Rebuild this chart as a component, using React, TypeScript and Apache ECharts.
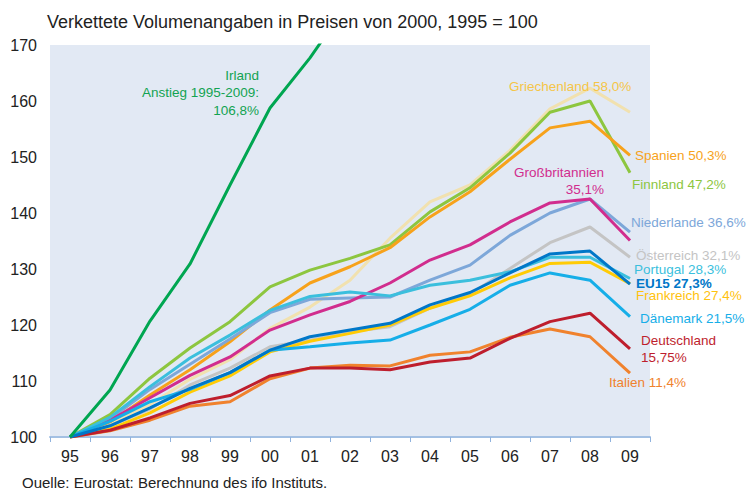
import React, { useEffect, useRef } from "react";
import * as echarts from "echarts";

const years = ["95", "96", "97", "98", "99", "00", "01", "02", "03", "04", "05", "06", "07", "08", "09"];
const yTicks = { min: 100, max: 170, interval: 10 };

const irland = [100, 108.4, 120.7, 130.9, 145, 158.75, 167.7, 178, 185, 193, 204, 214, 224, 220, 206.8];
const griechenland = [100, 102.5, 105.8, 110.3, 113.8, 119.4, 123.2, 128, 135.5, 142, 145, 151.2, 158.6, 162.3, 158];
const finnland = [100, 104, 110.5, 115.9, 120.6, 126.8, 129.8, 131.9, 134.3, 140.2, 144.5, 150.7, 158, 160, 147.2];
const spanien = [100, 102.7, 107.5, 112, 117, 122.7, 127.5, 130.4, 133.8, 139.3, 143.8, 149.6, 155.2, 156.4, 150.3];
const grossbritannien = [100, 103, 107, 111, 114.3, 119.1, 121.8, 124.2, 127.5, 131.6, 134.3, 138.4, 141.8, 142.5, 135.1];
const niederlande = [100, 103.2, 108.5, 113, 117.5, 122.2, 124.6, 124.8, 125, 128, 130.7, 136, 140, 142.5, 136.6];
const oesterreich = [100, 102, 105, 109.3, 112.3, 116.1, 117.3, 118.8, 119.7, 123, 125.5, 130.1, 134.7, 137.5, 132.1];
const portugal = [100, 103.5, 109, 114.1, 118.2, 122.6, 125.1, 125.9, 125.2, 127.1, 128, 129.5, 132.1, 132.1, 128.3];
const eu15 = [100, 102, 105.2, 108.7, 111.5, 115.5, 117.9, 119.1, 120.3, 123.6, 125.8, 129.3, 132.7, 133.2, 127.3];
const frankreich = [100, 101.4, 104.3, 108, 110.9, 115.2, 117.1, 118.5, 120, 123, 125.2, 128.4, 131, 131.2, 127.4];
const daenemark = [100, 102.8, 106.3, 108.5, 111.5, 115.5, 116.1, 116.8, 117.3, 120, 122.8, 127.1, 129.3, 128, 121.5];
const deutschland = [100, 101.2, 103.4, 106, 107.4, 110.9, 112.3, 112.3, 112, 113.4, 114.1, 117.6, 120.6, 122.1, 115.75];
const italien = [100, 101.1, 103, 105.5, 106.3, 110.4, 112.3, 112.8, 112.7, 114.6, 115.2, 117.8, 119.3, 117.9, 111.4];

const title = "Verkettete Volumenangaben in Preisen von 2000, 1995 = 100";
const source = "Quelle: Eurostat; Berechnung des ifo Instituts.";

const FONT = "Liberation Sans, Arial, sans-serif";

type Lbl = { lines: string[]; x: number; y: number; color: string; align?: string; bold?: boolean };

const labels: Lbl[] = [
  { lines: ["Irland", "Anstieg 1995-2009:", "106,8%"], x: 259, y: 75, color: "#13A352", align: "right" },
  { lines: ["Griechenland 58,0%"], x: 509, y: 86, color: "#F5C547" },
  { lines: ["Spanien 50,3%"], x: 635, y: 155, color: "#F7A21B" },
  { lines: ["Finnland 47,2%"], x: 632, y: 184, color: "#8DC63F" },
  { lines: ["Großbritannien", "35,1%"], x: 604, y: 172, color: "#D12D8E", align: "right" },
  { lines: ["Niederlande 36,6%"], x: 631, y: 222, color: "#7DA7D9" },
  { lines: ["Österreich 32,1%"], x: 636, y: 255, color: "#C4C4C4" },
  { lines: ["Portugal 28,3%"], x: 634, y: 269, color: "#3BBFDD" },
  { lines: ["EU15 27,3%"], x: 636, y: 283, color: "#0077C8", bold: true },
  { lines: ["Frankreich 27,4%"], x: 636, y: 295, color: "#FFC20E" },
  { lines: ["Dänemark 21,5%"], x: 640, y: 318, color: "#16AEE8" },
  { lines: ["Deutschland", "15,75%"], x: 641, y: 340, color: "#BE1E2D" },
  { lines: ["Italien 11,4%"], x: 609, y: 382, color: "#F0822D" },
];

const seriesDefs: { name: string; data: number[]; color: string }[] = [
  { name: "Griechenland", data: griechenland, color: "#F1E1AF" },
  { name: "Finnland", data: finnland, color: "#8DC63F" },
  { name: "Spanien", data: spanien, color: "#F7A21B" },
  { name: "Niederlande", data: niederlande, color: "#7DA7D9" },
  { name: "Großbritannien", data: grossbritannien, color: "#D12D8E" },
  { name: "Österreich", data: oesterreich, color: "#C4C4C4" },
  { name: "Portugal", data: portugal, color: "#3BBFDD" },
  { name: "Frankreich", data: frankreich, color: "#FFCB05" },
  { name: "Dänemark", data: daenemark, color: "#16AEE8" },
  { name: "Italien", data: italien, color: "#F0822D" },
  { name: "Deutschland", data: deutschland, color: "#BE1E2D" },
  { name: "EU15", data: eu15, color: "#0077C8" },
  { name: "Irland", data: irland, color: "#00A651" },
];

export default function App() {
  const ref = useRef<HTMLDivElement>(null);
  useEffect(() => {
    if (!ref.current) return;
    const chart = echarts.init(ref.current, null, { renderer: "svg" });
    const graphics: any[] = [
      {
        type: "text",
        x: 47,
        y: 22,
        style: { text: title, fill: "#222", font: `18px ${FONT}`, verticalAlign: "middle" },
      },
      {
        type: "text",
        x: 22,
        y: 482,
        style: { text: source, fill: "#222", font: `15px ${FONT}`, verticalAlign: "middle" },
      },
    ];
    labels.forEach((l) => {
      l.lines.forEach((t, i) => {
        graphics.push({
          type: "text",
          x: l.x,
          y: l.y + i * 17.5,
          z: 100,
          style: {
            text: t,
            fill: l.color,
            font: `${l.bold ? "bold " : ""}13.5px ${FONT}`,
            align: l.align || "left",
            verticalAlign: "middle",
          },
        });
      });
    });
    chart.setOption({
      animation: false,
      backgroundColor: "#ffffff",
      grid: {
        left: 50,
        right: 99,
        top: 45,
        bottom: 51,
        show: true,
        backgroundColor: "#E2E9F4",
        borderWidth: 0,
      },
      xAxis: {
        type: "category",
        data: years,
        boundaryGap: true,
        axisLine: { show: true, lineStyle: { color: "#A3C0E3", width: 2 } },
        axisTick: { show: true, length: 5, lineStyle: { color: "#8FB2DE", width: 1 } },
        axisLabel: { color: "#222", fontSize: 16, fontFamily: FONT, margin: 11 },
        splitLine: { show: false },
      },
      yAxis: {
        type: "value",
        min: yTicks.min,
        max: yTicks.max,
        interval: yTicks.interval,
        axisLine: { show: false },
        axisTick: { show: false },
        splitLine: { show: false },
        axisLabel: { color: "#222", fontSize: 16, fontFamily: FONT, margin: 13 },
      },
      series: seriesDefs.map((s) => ({
        name: s.name,
        type: "line",
        data: s.data,
        symbol: "none",
        clip: true,
        lineStyle: { color: s.color, width: 3 },
        itemStyle: { color: s.color },
      })),
      graphic: graphics,
    });
    return () => chart.dispose();
  }, []);
  return <div ref={ref} style={{ position: "fixed", left: 0, top: 0, width: 749, height: 488 }} />;
}
